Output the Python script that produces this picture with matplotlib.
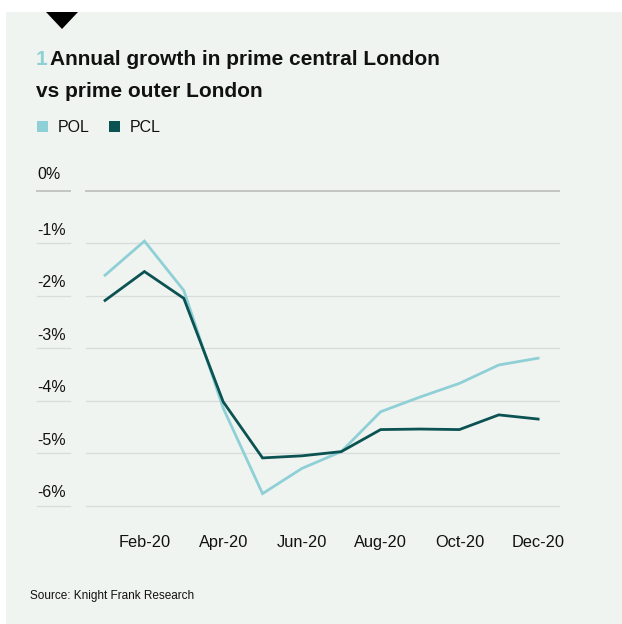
import numpy as np
import matplotlib
matplotlib.use('Agg')
import matplotlib.pyplot as plt
from matplotlib.patches import Rectangle, Polygon
from matplotlib.lines import Line2D
from matplotlib.transforms import blended_transform_factory, ScaledTranslation

# Datos
meses = ['Jan-20', 'Feb-20', 'Mar-20', 'Apr-20', 'May-20', 'Jun-20',
         'Jul-20', 'Aug-20', 'Sep-20', 'Oct-20', 'Nov-20', 'Dec-20']
pol = [-1.61, -0.96, -1.90, -4.14, -5.77, -5.29, -4.97, -4.21, -3.93, -3.67, -3.32, -3.19]
pcl = [-2.09, -1.54, -2.05, -4.02, -5.09, -5.05, -4.97, -4.55, -4.54, -4.55, -4.27, -4.35]
yticks = [0, -1, -2, -3, -4, -5, -6]

color_pol = '#8fd0d6'
color_pcl = '#0b5252'
fondo = '#eff4f0'
gris = '#dadcda'
gris0 = '#c2c5c2'
W, H = 622, 624

def fx(px):
    return px / W

def fy(py):
    return 1 - py / H

fig = plt.figure(figsize=(W / 100, H / 100), dpi=100)
fig.patch.set_facecolor('white')
fig.add_artist(Rectangle((fx(6), 0), 1 - fx(6), fy(12), transform=fig.transFigure,
                         facecolor=fondo, edgecolor='none', zorder=0))
# triangulo
fig.add_artist(Polygon([(fx(46), fy(12)), (fx(78), fy(12)), (fx(62), fy(29))],
                       closed=True, transform=fig.transFigure, facecolor='black',
                       edgecolor='none'))

plt.rcParams['font.family'] = ['Liberation Sans', 'DejaVu Sans']

# titulo
fig.text(fx(36), fy(65), '1', color=color_pol, fontsize=15, fontweight='bold', va='baseline')
fig.text(fx(50), fy(65), 'Annual growth in prime central London', color='#111111',
         fontsize=15, fontweight='bold', va='baseline')
fig.text(fx(36), fy(97), 'vs prime outer London', color='#111111',
         fontsize=15, fontweight='bold', va='baseline')

# leyenda
for x0, xt, lab, col in [(37, 58, 'POL', color_pol), (109, 130, 'PCL', color_pcl)]:
    fig.add_artist(Rectangle((fx(x0), fy(132)), fx(11), 11 / H, transform=fig.transFigure,
                             facecolor=col, edgecolor='none'))
    fig.text(fx(xt), fy(132), lab, fontsize=11.5, color='#111111', va='baseline')

ax = fig.add_axes([fx(86), fy(505.7), fx(559) - fx(86), fy(190.7) - fy(505.7)])
ax.set_facecolor('none')
x = np.arange(len(meses))
ax.plot(x, pol, color=color_pol, linewidth=2, zorder=3, solid_joinstyle='miter')
ax.plot(x, pcl, color=color_pcl, linewidth=2, zorder=4, solid_joinstyle='miter')
ax.set_xlim(-0.484, 11.53)
ax.set_ylim(-6, 0)

for v in yticks:
    if v == 0:
        ax.axhline(v, color=gris0, linewidth=1.4, zorder=1, clip_on=False)
    else:
        ax.axhline(v, color=gris, linewidth=0.9, zorder=1, clip_on=False)

# etiquetas eje y arriba de cada linea
trans = blended_transform_factory(fig.transFigure, ax.transData)
for v in yticks:
    sube = 12 if v == 0 else 8.5
    up = trans + ScaledTranslation(0, sube / 100, fig.dpi_scale_trans)
    ax.text(fx(37), v, f'{v}%', transform=up, fontsize=11.5, color='#111111',
            va='baseline', ha='left')
    ax.add_artist(Line2D([fx(37), fx(70)], [v, v], transform=trans, clip_on=False,
                         color=gris0 if v == 0 else gris,
                         linewidth=1.4 if v == 0 else 0.9))

ax.set_yticks([])
ax.set_xticks(x[1::2])
ax.set_xticklabels(meses[1::2])
ax.tick_params(axis='x', length=0, pad=21, labelsize=11.8, labelcolor='#111111')
for s in ax.spines.values():
    s.set_visible(False)

fig.text(fx(30), fy(599), 'Source: Knight Frank Research', fontsize=8.5,
         color='#111111', va='baseline')

fig.savefig('out.png', dpi=100, facecolor='white')
